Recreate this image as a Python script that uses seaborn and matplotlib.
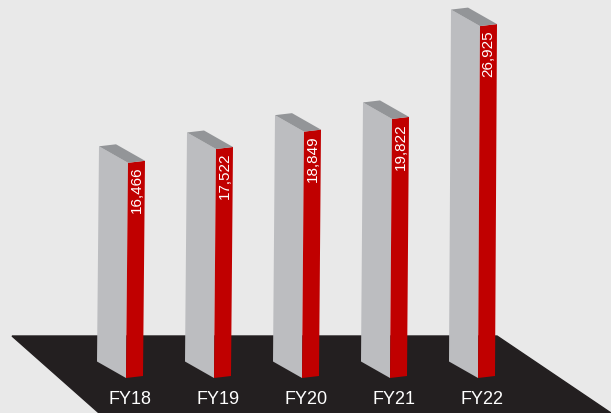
import matplotlib
matplotlib.use("Agg")
import matplotlib.pyplot as plt
from matplotlib.patches import Polygon
import seaborn as sns
import pandas as pd

years = ["FY18", "FY19", "FY20", "FY21", "FY22"]
values = [16466, 17522, 18849, 19822, 26925]

df = pd.DataFrame({"year": years, "value": values})

sns.set_style("white")
plt.rcParams["font.family"] = ["Liberation Sans", "DejaVu Sans"]

bg = "#e9e9e9"
gray_face = "#bcbdc0"
red_face = "#c00000"
top_face = "#939598"
floor_col = "#231f20"

fig = plt.figure(figsize=(6.11, 4.14), dpi=100, facecolor=bg)
ax = fig.add_axes([0, 0, 1, 1])
ax.set_facecolor(bg)

# pixel scale of the fake 3d view
px_x = 88.0      # px per category step
px_v = 0.01307   # px per value unit
base = 362.5     # pixel row of value 0
x0 = 113.5       # pixel column of first bar centre (top)

sns.barplot(data=df, x="year", y="value", width=29 / px_x, color=gray_face,
            saturation=1, ax=ax, zorder=2)
bars = list(ax.patches)

ax.set_xlim(-x0 / px_x, (611 - x0) / px_x)
ax.set_ylim((base - 414) / px_v, base / px_v)
ax.axis("off")

# black floor
floor = [(12, 337), (497, 337), (611, 414), (99, 414)]
ax.add_patch(Polygon([(x / 611, 1 - y / 414) for x, y in floor], closed=True,
                     transform=ax.transAxes, color=floor_col, zorder=0))

k = 16.5 / px_v   # drop of gray face across its width
k2 = 2 / px_v     # rise of red face
rw = 17 / px_x    # red face width
lean = 2 / px_x
bdx = 17 / px_x
bdy = 2 / px_v

for p, v in zip(bars, values):
    p.set_visible(False)
    xl = p.get_x()
    xr = xl + p.get_width()
    h = p.get_height()
    gray = [(xl - lean, 0), (xr - lean, -k), (xr, h - k), (xl, h)]
    red = [(xr - lean, -k), (xr + rw - lean, -k + k2), (xr + rw, h - k + k2), (xr, h - k)]
    top = [(xl, h), (xl + bdx, h + bdy), (xr + rw, h - k + k2), (xr, h - k)]
    ax.add_patch(Polygon(gray, closed=True, color=gray_face, lw=0, zorder=2))
    ax.add_patch(Polygon(red, closed=True, color=red_face, lw=0, zorder=2))
    ax.add_patch(Polygon(top, closed=True, color=top_face, lw=0, zorder=2))
    ax.text(xr + rw / 2, h - k + k2 - 5 / px_v, f"{v:,}", rotation=90,
            ha="center", va="top", color="white", fontsize=11, zorder=3)

for i, yr in enumerate(years):
    ax.text(i + 16.5 / px_x, (base - 400) / px_v, yr, ha="center", va="center",
            fontsize=13, color="white", zorder=3)

plt.savefig("out.png", dpi=100, facecolor=bg)
